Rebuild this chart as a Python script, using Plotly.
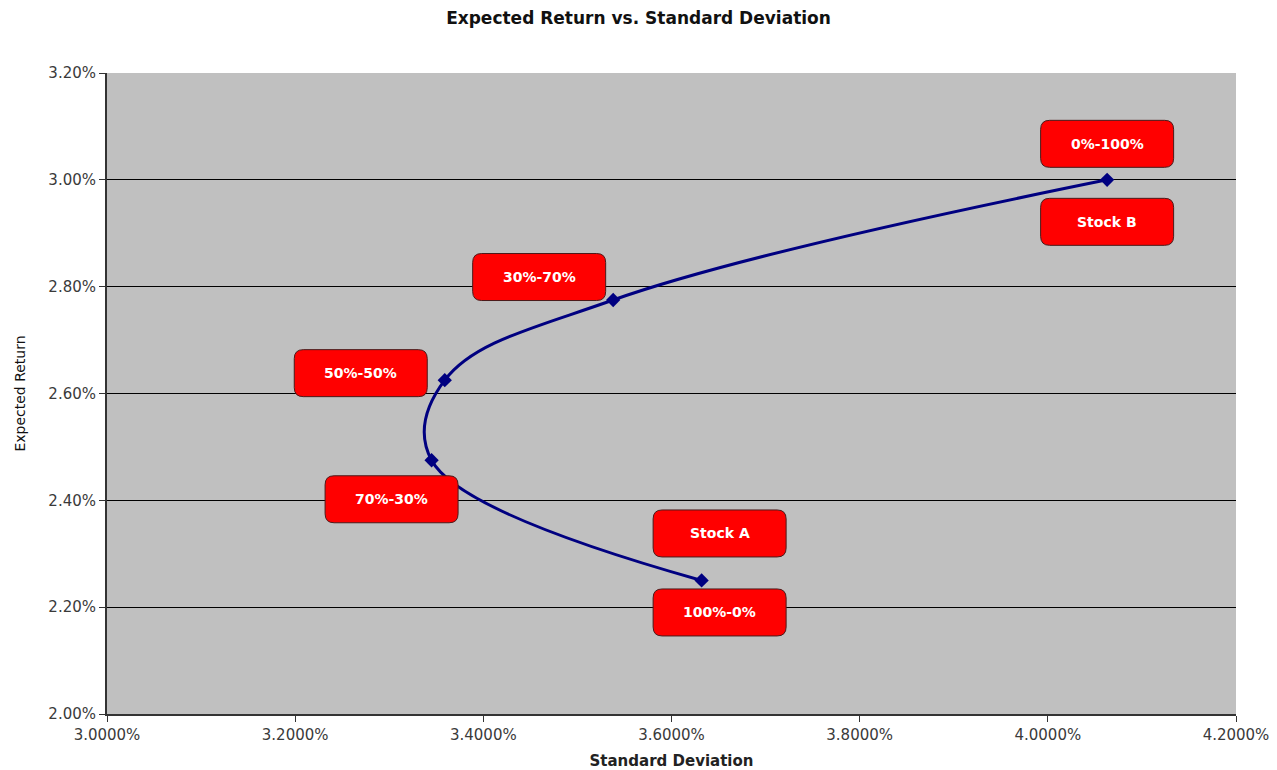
import plotly.graph_objects as go

# Two-asset portfolio: standard deviation (%) and expected return (%)
std_dev = [3.632, 3.345, 3.359, 3.538, 4.063]
exp_ret = [2.250, 2.475, 2.625, 2.775, 3.000]
weight_labels = ["100%-0%", "70%-30%", "50%-50%", "30%-70%", "0%-100%"]
stock_labels = ["Stock A", None, None, None, "Stock B"]

x_ticks = [3.0, 3.2, 3.4, 3.6, 3.8, 4.0, 4.2]
y_ticks = [2.0, 2.2, 2.4, 2.6, 2.8, 3.0, 3.2]

# label box centre offsets from each point, in screen pixels (dx right, dy down)
weight_offsets = [(18, 32), (-40, 39), (-84, -7), (-74, -23), (0, -36)]
stock_offsets = [(18, -47), None, None, None, (0, 42)]

BOX_W, BOX_H, BOX_R = 133, 47, 9
FONT = "DejaVu Sans, Verdana, sans-serif"

fig = go.Figure()
fig.add_trace(go.Scatter(
    x=std_dev, y=exp_ret, mode="lines+markers",
    line=dict(color="#000080", width=3, shape="spline", smoothing=1.1),
    marker=dict(symbol="diamond", size=11, color="#000080"),
    hoverinfo="x+y", showlegend=False,
))


def rounded_box(cx, cy):
    # cx, cy in pixels relative to the anchor, y pointing up
    l, r = cx - BOX_W / 2, cx + BOX_W / 2
    b, t = cy - BOX_H / 2, cy + BOX_H / 2
    q = BOX_R
    return (f"M {l+q},{b} L {r-q},{b} Q {r},{b} {r},{b+q} L {r},{t-q} "
            f"Q {r},{t} {r-q},{t} L {l+q},{t} Q {l},{t} {l},{t-q} "
            f"L {l},{b+q} Q {l},{b} {l+q},{b} Z")


def add_label(xv, yv, text, off):
    dx, dy = off
    fig.add_shape(
        type="path", xref="x", yref="y",
        xsizemode="pixel", ysizemode="pixel", xanchor=xv, yanchor=yv,
        path=rounded_box(dx, -dy),
        fillcolor="#FF0000", line=dict(color="#4a1a1a", width=1),
        layer="above",
    )
    fig.add_annotation(
        x=xv, y=yv, xref="x", yref="y", text=f"<b>{text}</b>",
        showarrow=False, xshift=dx, yshift=-dy,
        font=dict(family=FONT, size=14, color="white"),
    )


for i, (xv, yv) in enumerate(zip(std_dev, exp_ret)):
    add_label(xv, yv, weight_labels[i], weight_offsets[i])
    if stock_labels[i]:
        add_label(xv, yv, stock_labels[i], stock_offsets[i])

fig.update_layout(
    width=1277, height=770,
    margin=dict(l=107, r=41, t=73, b=56),
    paper_bgcolor="white", plot_bgcolor="#C0C0C0",
    font=dict(family=FONT, color="#222"),
    title=dict(
        text="<b>Expected Return vs. Standard Deviation</b>",
        x=0.5, xanchor="center", y=1 - 18 / 770, yanchor="middle",
        yref="container", font=dict(family=FONT, size=17, color="#111"),
    ),
)
fig.update_xaxes(
    range=[3.0, 4.2], tickvals=x_ticks,
    ticktext=[f"{v:.4f}%" for v in x_ticks],
    showgrid=False, zeroline=False, automargin=False,
    showline=True, linecolor="#333", linewidth=2,
    ticks="outside", ticklen=6, tickcolor="#333",
    tickfont=dict(family=FONT, size=15, color="#3a3a3a"),
    title=dict(text="<b>Standard Deviation</b>", standoff=12,
               font=dict(family=FONT, size=15, color="#222")),
)
fig.update_yaxes(
    range=[2.0, 3.2], tickvals=y_ticks,
    ticktext=[f"{v:.2f}%" for v in y_ticks],
    showgrid=True, gridcolor="#000000", gridwidth=1, zeroline=False,
    automargin=False,
    showline=True, linecolor="#333", linewidth=2,
    ticks="outside", ticklen=6, tickcolor="#333",
    tickfont=dict(family=FONT, size=15, color="#3a3a3a"),
    title=dict(text="Expected Return", standoff=19,
               font=dict(family=FONT, size=14, color="#111")),
)

fig.write_html("out.html")
